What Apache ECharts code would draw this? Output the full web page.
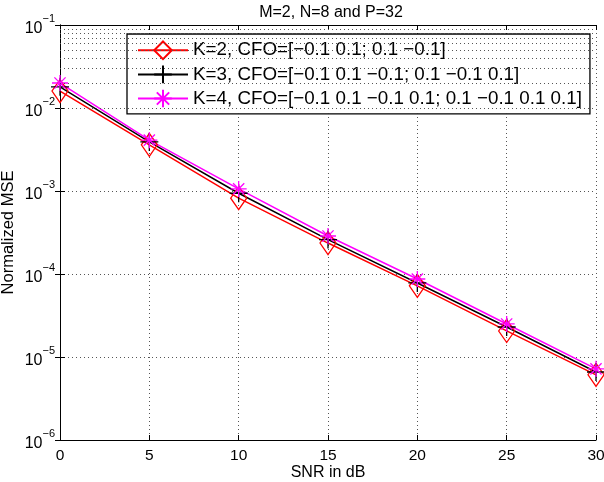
<!DOCTYPE html>
<html lang="en">

<head>
    <meta charset="UTF-8">
    <title>Normalized MSE vs SNR</title>
    <style>
        body { margin: 0; background: #fff; }
        #chart { width: 604px; height: 482px; }
    </style>
</head>

<body>
    <div id="chart"></div>
</body>
<script src="https://cdn.jsdelivr.net/npm/echarts@6/dist/echarts.min.js"></script>
<script>
    // SNR points (dB)
    var snr = [0, 5, 10, 15, 20, 25, 30];
    // normalized MSE
    var mseK2 = [0.016, 0.0036, 0.00082, 0.000236, 7.2e-5, 2.06e-5, 6.1e-6];
    var mseK3 = [0.018, 0.0039, 0.00094, 0.00026, 7.8e-5, 2.3e-5, 6.6e-6];
    var mseK4 = [0.020, 0.0041, 0.00106, 0.000287, 8.7e-5, 2.5e-5, 7.2e-6];
    var seriesNames = [
        'K=2, CFO=[\u22120.1 0.1; 0.1 \u22120.1]',
        'K=3, CFO=[\u22120.1 0.1 \u22120.1; 0.1 \u22120.1 0.1]',
        'K=4, CFO=[\u22120.1 0.1 \u22120.1 0.1; 0.1 \u22120.1 0.1 0.1]'
    ];

    function pairs(ys) {
        return snr.map(function (x, i) { return [x, ys[i]]; });
    }

    // minor log grid: 2..9 x 10^k
    var minorLines = [];
    for (var k = -6; k < -1; k++) {
        for (var m = 2; m <= 9; m++) {
            minorLines.push({ yAxis: m * Math.pow(10, k) });
        }
    }

    var font = 'Liberation Sans, Arial, sans-serif';
    var gridLine = { show: true, lineStyle: { color: '#555', type: [1, 3], width: 1 } };

    var myChart = echarts.init(document.getElementById('chart'));
    var option = {
        animation: false,
        textStyle: { fontFamily: font },
        title: {
            text: 'M=2, N=8 and P=32',
            left: 326, textAlign: 'center', top: 0,
            textStyle: { fontSize: 16, fontWeight: 'normal', color: '#000', fontFamily: font }
        },
        grid: { left: 60, right: 8, top: 25, bottom: 42, containLabel: false, outerBoundsMode: 'none' },
        legend: {
            orient: 'vertical',
            left: 127, top: 34,
            padding: [5, 8, 4, 10],
            itemGap: 1.5,
            itemWidth: 50, itemHeight: 22,
            backgroundColor: '#fff',
            borderColor: '#000', borderWidth: 1.3,
            borderRadius: 0,
            textStyle: { fontSize: 18.8, color: '#000', fontFamily: font },
            data: seriesNames
        },
        xAxis: [{
            type: 'value', min: 0, max: 30, interval: 5,
            name: 'SNR in dB', nameLocation: 'middle', nameGap: 25, nameMoveOverlap: false,
            nameTextStyle: { fontSize: 16, color: '#000' },
            axisLine: { lineStyle: { color: '#000', width: 1 } },
            axisTick: { inside: true, length: 5, lineStyle: { color: '#000' } },
            axisLabel: { fontSize: 15.5, color: '#000', margin: 8 },
            splitLine: gridLine
        }, {
            type: 'value', min: 0, max: 30, interval: 5, position: 'top',
            axisLine: { lineStyle: { color: '#000', width: 1 } },
            axisTick: { inside: true, length: 5, lineStyle: { color: '#000' } },
            axisLabel: { show: false },
            splitLine: { show: false }
        }],
        yAxis: [{
            type: 'log', logBase: 10, min: 1e-6, max: 1e-1,
            name: 'Normalized MSE', nameLocation: 'middle', nameGap: 43, nameMoveOverlap: false,
            nameTextStyle: { fontSize: 16.5, color: '#000' },
            axisLine: { show: true, lineStyle: { color: '#000', width: 1 } },
            axisTick: { inside: true, length: 5, lineStyle: { color: '#000' } },
            axisLabel: {
                margin: 5,
                formatter: function (v) {
                    var e = Math.round(Math.log10(v));
                    return '{b|10}{s|' + (e < 0 ? '\u2212' + (-e) : e) + '}';
                },
                rich: {
                    b: { fontSize: 16, color: '#000', fontFamily: font, verticalAlign: 'bottom', padding: [8, 0, 0, 0] },
                    s: { fontSize: 11, color: '#000', fontFamily: font, verticalAlign: 'top', padding: [0, 0, 8, 0] }
                }
            },
            splitLine: gridLine
        }, {
            type: 'log', logBase: 10, min: 1e-6, max: 1e-1, position: 'right',
            axisLine: { show: true, lineStyle: { color: '#000', width: 1 } },
            axisTick: { inside: true, length: 5, lineStyle: { color: '#000' } },
            axisLabel: { show: false },
            splitLine: { show: false }
        }],
        series: [{
            type: 'line', silent: true, data: [],
            markLine: {
                silent: true, symbol: 'none', label: { show: false },
                lineStyle: { color: '#555', type: [1, 3], width: 1 },
                data: minorLines
            }
        }, {
            name: seriesNames[0], type: 'line', data: pairs(mseK2),
            symbol: 'diamond', symbolSize: [16, 23],
            lineStyle: { color: '#ff0000', width: 1.5 },
            itemStyle: { color: 'none', borderColor: '#ff0000', borderWidth: 1.3 }
        }, {
            name: seriesNames[1], type: 'line', data: pairs(mseK3),
            symbol: 'path://M0,-10L0,10M-10,0L10,0', symbolSize: 18,
            lineStyle: { color: '#000', width: 1.5 },
            itemStyle: { color: 'none', borderColor: '#000', borderWidth: 1.3 }
        }, {
            name: seriesNames[2], type: 'line', data: pairs(mseK4),
            symbol: 'path://M0,-10L0,10M-10,0L10,0M-7,-7L7,7M-7,7L7,-7', symbolSize: 16,
            lineStyle: { color: '#ff00ff', width: 1.5 },
            itemStyle: { color: 'none', borderColor: '#ff00ff', borderWidth: 1.3 }
        }]
    };
    myChart.setOption(option);
</script>

</html>
